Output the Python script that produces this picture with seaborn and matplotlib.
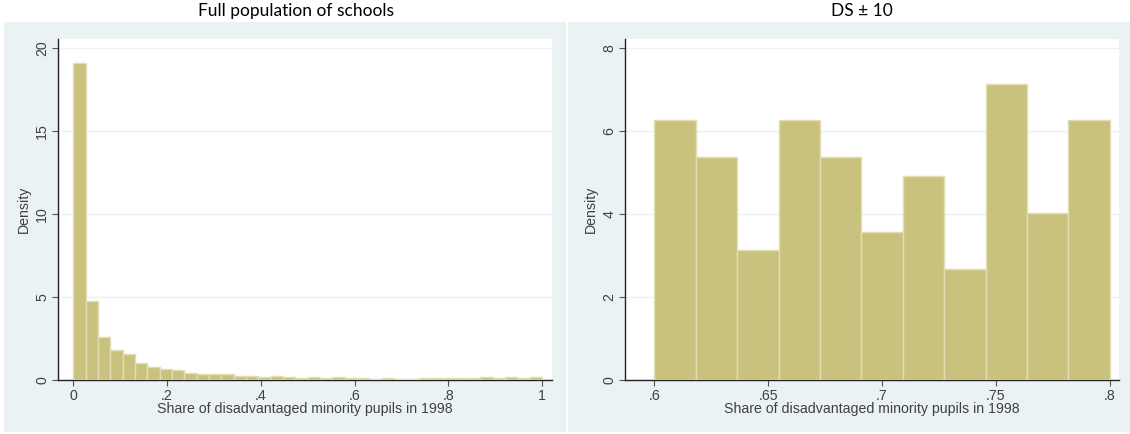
import matplotlib
matplotlib.use("Agg")
import matplotlib.pyplot as plt
from matplotlib.patches import Rectangle
import numpy as np
import pandas as pd
import seaborn as sns

# full population: 38 bins on [0, 1], density
full_density = [19.1, 4.74, 2.60, 1.79, 1.57, 1.03, 0.81, 0.65, 0.58, 0.42,
                0.36, 0.36, 0.36, 0.22, 0.22, 0.16, 0.22, 0.16, 0.10, 0.18,
                0.10, 0.18, 0.12, 0.12, 0.06, 0.12, 0.06, 0.06, 0.12, 0.12,
                0.12, 0.12, 0.12, 0.18, 0.12, 0.18, 0.12, 0.18]
full_range = (0.0, 1.0)

# DS +/- 10 window: 11 bins on [.6, .8]
ds_density = [6.27, 5.37, 3.13, 6.27, 5.37, 3.57, 4.92, 2.68, 7.15, 4.02, 6.27]
ds_range = (0.6, 0.8)

titles = ["Full population of schools", "DS \u00b1 10"]
xlabel = "Share of disadvantaged minority pupils in 1998"
ylabel = "Density"
full_xticks = [0, 0.2, 0.4, 0.6, 0.8, 1]
full_xticklabels = ["0", ".2", ".4", ".6", ".8", "1"]
full_yticks = [0, 5, 10, 15, 20]
ds_xticks = [0.6, 0.65, 0.7, 0.75, 0.8]
ds_xticklabels = [".6", ".65", ".7", ".75", ".8"]
ds_yticks = [0, 2, 4, 6, 8]

sns.set_style("white")
plt.rcParams["font.family"] = ["Liberation Sans", "DejaVu Sans"]

W, H = 1130, 434
fig = plt.figure(figsize=(W / 100, H / 100), dpi=100)
fig.patch.set_facecolor("white")

bg = "#EAF2F3"
bar_color = "#C9C27E"
bar_edge = "#E2DDB2"
txt = "#404040"

# stata-like graph regions
for x0, x1 in [(4, 566), (568, 1130)]:
    fig.patches.append(Rectangle((x0 / W, 1 - 432 / H), (x1 - x0) / W, (432 - 22) / H,
                                 transform=fig.transFigure, facecolor=bg,
                                 edgecolor="none", zorder=-5))


def px_axes(x0, x1, y0, y1):
    return fig.add_axes([x0 / W, 1 - y1 / H, (x1 - x0) / W, (y1 - y0) / H])


def draw(ax, dens, rng, xlim, ylim, xticks, xticklabels, yticks):
    n = len(dens)
    step = (rng[1] - rng[0]) / n
    df = pd.DataFrame({"share": [rng[0] + (i + 0.5) * step for i in range(n)],
                       "density": dens})
    sns.histplot(data=df, x="share", weights="density", bins=n, binrange=rng,
                 stat="count", ax=ax, color=bar_color, edgecolor=bar_edge,
                 linewidth=1, alpha=1, zorder=3)
    ax.set_facecolor("white")
    ax.set_xlim(*xlim)
    ax.set_ylim(*ylim)
    ax.set_xticks(xticks)
    ax.set_xticklabels(xticklabels)
    ax.set_yticks(yticks)
    ax.set_yticklabels([str(t) for t in yticks], rotation=90, va="center")
    ax.grid(axis="y", color=bg, linewidth=1, zorder=0)
    ax.set_axisbelow(True)
    for s in ["top", "right"]:
        ax.spines[s].set_visible(False)
    for s in ["left", "bottom"]:
        ax.spines[s].set_color("#222222")
        ax.spines[s].set_linewidth(1)
    ax.tick_params(axis="both", direction="out", length=4, width=0.8, color="#555555",
                   labelsize=10.2, labelcolor=txt, left=True, bottom=True)
    ax.tick_params(axis="x", pad=2.5)
    ax.tick_params(axis="y", pad=2)
    ax.set_xlabel(xlabel, fontsize=10.2, color=txt, labelpad=-1)
    ax.set_ylabel(ylabel, fontsize=10.2, color=txt, labelpad=3)


ax1 = px_axes(57.7, 551.5, 39, 380)
draw(ax1, full_density, full_range, (-0.033, 1.020), (0, 20.56),
     full_xticks, full_xticklabels, full_yticks)

ax2 = px_axes(624.5, 1118.5, 39, 380)
draw(ax2, ds_density, ds_range, (0.5869, 0.80378), (0, 8.225),
     ds_xticks, ds_xticklabels, ds_yticks)

fig.text(296 / W, 1 - 11 / H, titles[0], ha="center", va="center",
         fontsize=12.5, family=["Lato", "DejaVu Sans"], color="black")
fig.text(862 / W, 1 - 11 / H, titles[1], ha="center", va="center",
         fontsize=12.5, family=["Lato", "DejaVu Sans"], color="black")

fig.savefig("out.png", dpi=100, facecolor="white")
